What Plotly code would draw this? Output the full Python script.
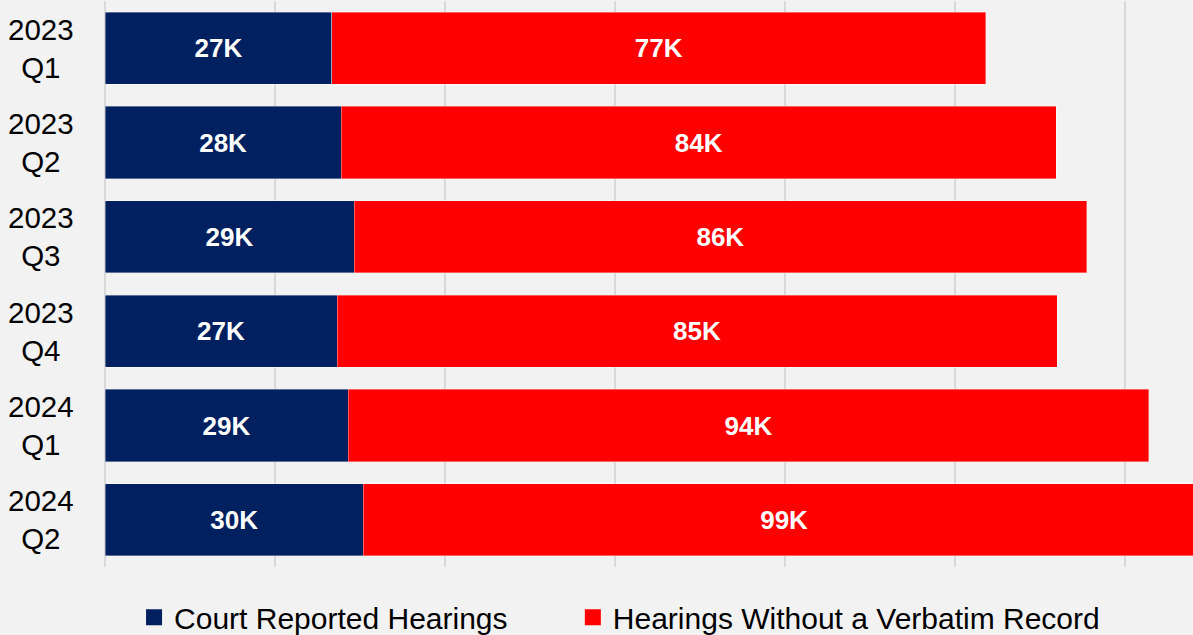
import plotly.graph_objects as go

# Data (thousands of hearings)
quarters = ["2023<br>Q1", "2023<br>Q2", "2023<br>Q3", "2023<br>Q4", "2024<br>Q1", "2024<br>Q2"]
court_reported = [26.7, 27.8, 29.3, 27.3, 28.6, 30.4]
without_record = [76.9, 84.1, 86.2, 84.7, 94.2, 99.0]

series_names = ["Court Reported Hearings", "Hearings Without a Verbatim Record"]
series_colors = ["#002060", "#FF0000"]
legend_ids = ["legend", "legend2"]

FONT = "Liberation Sans"

fig = go.Figure()
for name, vals, color in zip(series_names, [court_reported, without_record], series_colors):
    fig.add_trace(go.Bar(
        y=quarters, x=vals, orientation="h", name=name,
        marker=dict(color=color, line=dict(color="rgba(255,255,255,0.45)", width=0.8)),
        texttemplate="%{x:.0f}K", textposition="inside", insidetextanchor="middle",
        textfont=dict(family=FONT, size=26, color="white", weight="bold"),
        showlegend=False, hoverinfo="skip",
    ))
for name, color, lg in zip(series_names, series_colors, legend_ids):
    # legend proxy with larger square symbol
    fig.add_trace(go.Scatter(
        x=[None], y=[None], mode="markers", name=name, legend=lg,
        marker=dict(symbol="square", size=18, color=color),
        showlegend=True,
    ))

# centered category labels
for q in quarters:
    fig.add_annotation(
        x=-0.0588, xref="paper", y=q, yref="y", text=q, showarrow=False,
        xanchor="center", yanchor="middle", align="center",
        font=dict(family=FONT, size=29.5, color="black"),
    )

legend_common = dict(orientation="h", xanchor="left", y=0.028, yref="container",
                     yanchor="middle",
                     font=dict(family=FONT, size=30, color="black"), itemwidth=30,
                     bgcolor="rgba(0,0,0,0)")

fig.update_layout(
    width=1193, height=635,
    barmode="stack", bargap=0.236,
    paper_bgcolor="#F2F2F2", plot_bgcolor="#F2F2F2",
    margin=dict(l=105, r=0, t=1, b=68),
    font=dict(family=FONT, size=30, color="black"),
    xaxis=dict(range=[0, 128], dtick=20, showgrid=True, gridcolor="#D9D9D9", gridwidth=1.5,
               showticklabels=False, zeroline=True, zerolinecolor="#D9D9D9", zerolinewidth=1.5,
               showline=False, fixedrange=True),
    yaxis=dict(autorange="reversed", showticklabels=False, showgrid=False, zeroline=False,
               showline=False, type="category"),
    legend=dict(x=0.0267, **legend_common),
    legend2=dict(x=0.430, **legend_common),
)

fig.write_html("out.html", config={"displayModeBar": False},
               post_script="document.body.style.margin='0';document.body.style.padding='0';")
